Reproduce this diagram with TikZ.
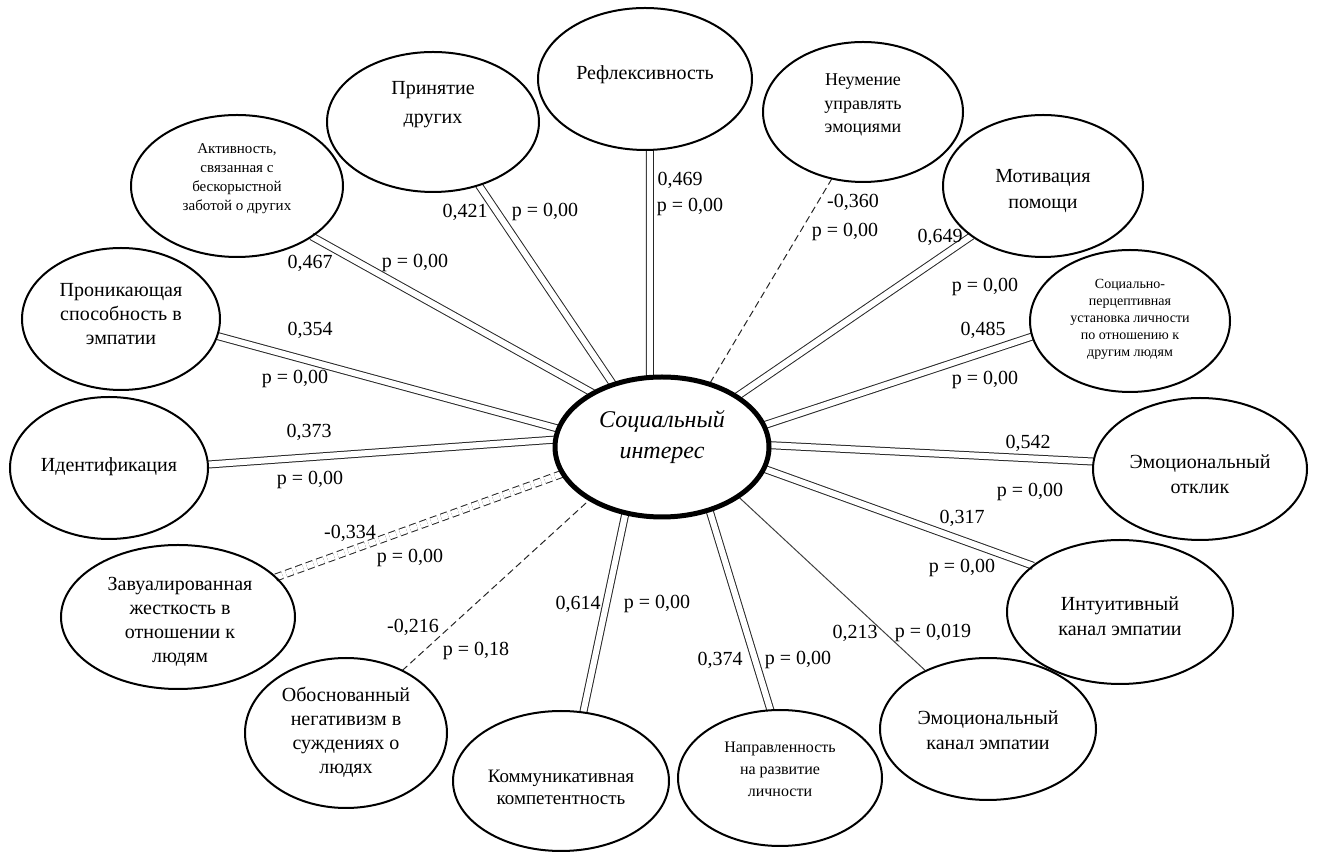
\documentclass[tikz,border=0pt]{standalone}
\usepackage{fontspec}
\setmainfont{Liberation Serif}
\usetikzlibrary{shapes.geometric,backgrounds}
\begin{document}
\begin{tikzpicture}[x=0.5pt,y=-0.5pt,
  bub/.style={ellipse,draw,line width=1pt,inner sep=0pt,outer sep=0pt},
  txt/.style={align=center,inner sep=0pt,font=\fontsize{10}{12.5}\selectfont},
  lbl/.style={inner sep=0pt,font=\fontsize{10}{12}\selectfont},
  poslink/.style={draw=black!85,line width=0.5pt,double=white,double distance=3pt},
  neglink/.style={draw=black!85,line width=0.5pt,dash pattern=on 3.5pt off 2pt},
  negdouble/.style={poslink,dash pattern=on 3.5pt off 2pt},
  weaklink/.style={draw=black!75,line width=0.5pt}]
\useasboundingbox (0,0) rectangle (1318,854);

% central factor
\node[bub,line width=2.5pt,minimum width=107pt,minimum height=70pt] (si) at (662,447) {};
\node[txt,font=\fontsize{12}{15.5}\selectfont\itshape] (si-t) at (662,437) {Социальный\\интерес};

% surrounding scales
\node[bub,minimum width=107pt,minimum height=71pt] (refl) at (645,79) {};
\node[txt] (refl-t) at (645,75) {Рефлексивность};

\node[bub,minimum width=106pt,minimum height=70pt] (prin) at (433,122) {};
\node[txt,font=\fontsize{10}{14.5}\selectfont] (prin-t) at (433,105) {Принятие\\других};

\node[bub,minimum width=106pt,minimum height=71pt] (akt) at (237,186) {};
\node[txt,font=\fontsize{7.5}{9.5}\selectfont] (akt-t) at (237,179) {Активность,\\связанная с\\бескорыстной\\заботой о других};

\node[bub,minimum width=100pt,minimum height=70pt] (neum) at (863,112) {};
\node[txt,font=\fontsize{9}{11.75}\selectfont] (neum-t) at (863,105) {Неумение\\управлять\\эмоциями};

\node[bub,minimum width=100pt,minimum height=71pt] (motiv) at (1043,186) {};
\node[txt,font=\fontsize{10}{13}\selectfont] (motiv-t) at (1043,191) {Мотивация\\помощи};

\node[bub,minimum width=100pt,minimum height=71pt] (spu) at (1130,321) {};
\node[txt,font=\fontsize{7}{8.5}\selectfont] (spu-t) at (1130,319) {Социально-\\перцептивная\\установка личности\\по отношению к\\другим людям};

\node[bub,minimum width=107pt,minimum height=71pt] (eotk) at (1200,469) {};
\node[txt] (eotk-t) at (1200,474) {Эмоциональный\\отклик};

\node[bub,minimum width=113pt,minimum height=72pt] (intu) at (1120,612) {};
\node[txt] (intu-t) at (1120,616) {Интуитивный\\канал эмпатии};

\node[bub,minimum width=108pt,minimum height=71pt] (ekan) at (988,729) {};
\node[txt] (ekan-t) at (988,730) {Эмоциональный\\канал эмпатии};

\node[bub,minimum width=102pt,minimum height=68pt] (napr) at (780,778) {};
\node[txt,font=\fontsize{8}{11}\selectfont] (napr-t) at (780,769) {Направленность\\на развитие\\личности};

\node[bub,minimum width=108pt,minimum height=70pt] (komm) at (561,781) {};
\node[txt,font=\fontsize{9.5}{11}\selectfont] (komm-t) at (561,787) {Коммуникативная\\компетентность};

\node[bub,minimum width=101pt,minimum height=75pt] (obos) at (346,733) {};
\node[txt,font=\fontsize{10}{12}\selectfont] (obos-t) at (346,732) {Обоснованный\\негативизм в\\суждениях о\\людях};

\node[bub,minimum width=117pt,minimum height=72pt] (zav) at (178,617) {};
\node[txt,font=\fontsize{10}{12}\selectfont] (zav-t) at (180,622) {Завуалированная\\жесткость в\\отношении к\\людям};

\node[bub,minimum width=99pt,minimum height=71pt] (ident) at (109,468) {};
\node[txt] (ident-t) at (109,467) {Идентификация};

\node[bub,minimum width=99pt,minimum height=71pt] (pron) at (121,319) {};
\node[txt,font=\fontsize{10}{12}\selectfont] (pron-t) at (121,314) {Проникающая\\способность в\\эмпатии};

% correlation links
\begin{scope}[on background layer]
\draw[poslink] (akt.-34.7) -- (si.142.9);
\draw[poslink] (prin.-54.5) -- (si.128.9);
\draw[poslink] (refl.-86.8) -- (si.100.7);
\draw[neglink] (neum.-115.2) -- (si.53.9);
\draw[poslink] (motiv.-145.1) -- (si.34.9);
\draw[poslink] (spu.189.1) -- (si.12.2);
\draw[poslink] (eotk.176.8) -- (si.1.1);
\draw[poslink] (intu.152.4) -- (si.-12.8);
\draw[weaklink] (ekan.137.8) -- (si.-33.3);
\draw[poslink] (napr.98.4) -- (si.-53.1);
\draw[poslink] (komm.72.3) -- (si.-119.3);
\draw[neglink] (obos.48.6) -- (si.-144.4);
\draw[negdouble] (zav.22.8) -- (si.195.4);
\draw[poslink] (ident.2.9) -- (si.176.8);
\draw[poslink] (pron.-10.5) -- (si.170.7);
\end{scope}

% coefficients and significance levels
\node[lbl] (r-akt) at (310,263) {0,467};   \node[lbl] (p-akt) at (415,263) {p = 0,00};
\node[lbl] (r-prin) at (465,212) {0,421};  \node[lbl] (p-prin) at (545,212) {p = 0,00};
\node[lbl] (r-refl) at (680,180) {0,469};  \node[lbl] (p-refl) at (690,207) {p = 0,00};
\node[lbl] (r-neum) at (853,202) {-0,360}; \node[lbl] (p-neum) at (845,232) {p = 0,00};
\node[lbl] (r-motiv) at (940,237) {0,649}; \node[lbl] (p-motiv) at (985,287) {p = 0,00};
\node[lbl] (r-spu) at (983,330) {0,485};   \node[lbl] (p-spu) at (985,380) {p = 0,00};
\node[lbl] (r-eotk) at (1028,443) {0,542}; \node[lbl] (p-eotk) at (1030,492) {p = 0,00};
\node[lbl] (r-intu) at (962,518) {0,317};  \node[lbl] (p-intu) at (962,568) {p = 0,00};
\node[lbl] (r-ekan) at (855,633) {0,213};  \node[lbl] (p-ekan) at (933,633) {p = 0,019};
\node[lbl] (r-napr) at (720,660) {0,374};  \node[lbl] (p-napr) at (798,660) {p = 0,00};
\node[lbl] (r-komm) at (578,604) {0,614};  \node[lbl] (p-komm) at (657,604) {p = 0,00};
\node[lbl] (r-obos) at (413,627) {-0,216}; \node[lbl] (p-obos) at (476,651) {p = 0,18};
\node[lbl] (r-zav) at (350,533) {-0,334};  \node[lbl] (p-zav) at (410,558) {p = 0,00};
\node[lbl] (r-ident) at (309,432) {0,373}; \node[lbl] (p-ident) at (310,480) {p = 0,00};
\node[lbl] (r-pron) at (310,330) {0,354};  \node[lbl] (p-pron) at (295,379) {p = 0,00};
\end{tikzpicture}
\end{document}
